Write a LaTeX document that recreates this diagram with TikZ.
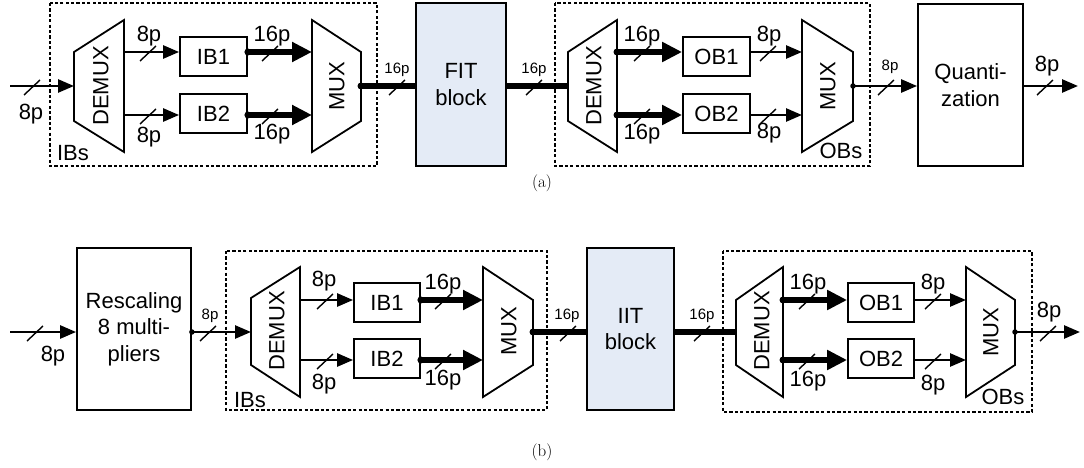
\documentclass[tikz,border=0pt]{standalone}
\usepackage{fontspec}
\newfontfamily\arialf{Liberation Sans}
\usetikzlibrary{arrows.meta,calc}
\definecolor{fitblue}{RGB}{228,235,246}
\newcommand\lblfont{\arialf\fontsize{22}{26.5}\selectfont}
\newcommand\slblfont{\arialf\fontsize{15}{18}\selectfont}
\begin{document}
\begin{tikzpicture}[x=1pt,y=-1pt,
  box/.style={draw=black, line width=1.8pt, inner sep=0pt, align=center, font=\lblfont},
  dbox/.style={draw=black, line width=1.6pt, dash pattern=on 3.2pt off 2.2pt},
  trap/.style={draw=black, line width=1.8pt, line join=miter},
  tarr/.style={line width=2.6pt, -{Triangle[length=16pt,width=13pt]}},
  karr/.style={line width=5.3pt, -{Triangle[length=20pt,width=19pt]}},
  kline/.style={line width=5.3pt},
  tline/.style={line width=2.6pt},
  dotk/.style={fill=black, circle, inner sep=0pt, minimum size=7pt},
  dott/.style={fill=black, circle, inner sep=0pt, minimum size=5.5pt},
  lab/.style={font=\lblfont, inner sep=0pt},
  slab/.style={font=\slblfont, inner sep=0pt},
  slashpic/.pic={\draw[line width=1.4pt] (-8,9) -- (8,-6);},
]
\useasboundingbox (0,0) rectangle (1084,468);

% ================= (a) =================
\draw[dbox] (50,3) rectangle (377,166);
\draw[dbox] (555,3) rectangle (870,166);

% DEMUX / MUX trapezoids
\draw[trap] (74,52) -- (124,20) -- (124,152) -- (74,121) -- cycle;
\draw[trap] (312,20) -- (361,52) -- (361,121) -- (312,152) -- cycle;
\draw[trap] (568,52) -- (617,20) -- (617,152) -- (568,121) -- cycle;
\draw[trap] (802,20) -- (853,52) -- (853,121) -- (802,152) -- cycle;
\node[lab, rotate=90] (dmA) at (101,86) {DEMUX};
\node[lab, rotate=90] (mxA) at (337,86) {MUX};
\node[lab, rotate=90] (dmA2) at (594,86) {DEMUX};
\node[lab, rotate=90] (mxA2) at (828,86) {MUX};

\coordinate (inA) at (10,86);
\coordinate (dmAin) at (74,86);
\coordinate (dmAo1) at (124,52);
\coordinate (dmAo2) at (124,115);
\coordinate (mxAi1) at (312,52);
\coordinate (mxAi2) at (312,115);
\coordinate (mxAout) at (361,86);
\coordinate (dmA2in) at (568,86);
\coordinate (dmA2o1) at (617,52);
\coordinate (dmA2o2) at (617,115);
\coordinate (mxA2i1) at (802,52);
\coordinate (mxA2i2) at (802,115);
\coordinate (mxA2out) at (853,86);
\coordinate (outA) at (1078,86);

\node[box, minimum width=67pt, minimum height=39pt] (IB1a) at (213.5,56.5) {IB1};
\node[box, minimum width=67pt, minimum height=39pt] (IB2a) at (213.5,113.5) {IB2};
\node[box, fill=fitblue, minimum width=90pt, minimum height=163pt] (FIT) at (461,84.5) {FIT\\block};
\node[box, minimum width=105pt, minimum height=162pt] (QZ) at (970.5,85) {Quanti-\\zation};
\node[box, minimum width=67pt, minimum height=39pt] (OB1a) at (716.5,56.5) {OB1};
\node[box, minimum width=67pt, minimum height=39pt] (OB2a) at (716.5,113.5) {OB2};

% connectors
\draw[tarr] (inA) -- (dmAin);
\draw[tarr] (dmAo1) -- (dmAo1 -| IB1a.west);
\draw[tarr] (dmAo2) -- (dmAo2 -| IB2a.west);
\draw[karr] (mxAi1 -| IB1a.east) -- (mxAi1);
\draw[karr] (mxAi2 -| IB2a.east) -- (mxAi2);
\draw[kline] (mxAout) -- (mxAout -| FIT.west);
\draw[kline] (dmA2in -| FIT.east) -- (dmA2in);
\draw[karr] (dmA2o1) -- (dmA2o1 -| OB1a.west);
\draw[karr] (dmA2o2) -- (dmA2o2 -| OB2a.west);
\draw[tarr] (mxA2i1 -| OB1a.east) -- (mxA2i1);
\draw[tarr] (mxA2i2 -| OB2a.east) -- (mxA2i2);
\draw[tarr] (mxA2out) -- (mxA2out -| QZ.west);
\draw[tarr] (QZ.east |- outA) -- (outA);

\node[dotk] (d1) at (mxAi1 -| IB1a.east) {};
\node[dotk] (d2) at (mxAi2 -| IB2a.east) {};
\node[dotk] (d3) at (mxAout) {};
\node[dotk] (d4) at (dmA2o1) {};
\node[dotk] (d5) at (dmA2o2) {};
\node[dott] (d6) at (mxA2out) {};

% slashes
\pic at (32,86) {slashpic};
\pic at (148,52) {slashpic};
\pic at (148,115) {slashpic};
\pic at (270,52) {slashpic};
\pic at (270,115) {slashpic};
\pic at (397,86) {slashpic};
\pic at (534,86) {slashpic};
\pic at (642,52) {slashpic};
\pic at (642,115) {slashpic};
\pic at (768,52) {slashpic};
\pic at (768,115) {slashpic};
\pic at (886,86) {slashpic};
\pic at (1045,86) {slashpic};

% labels
\node[lab] (la1) at (31,114) {8p};
\node[lab] (la2) at (149,36) {8p};
\node[lab] (la3) at (149,137) {8p};
\node[lab] (la4) at (272,36) {16p};
\node[lab] (la5) at (272,134) {16p};
\node[lab] (la6) at (73,153) {IBs};
\node[slab] (la7) at (397,70) {16p};
\node[slab] (la8) at (534,70) {16p};
\node[lab] (la9) at (642,36) {16p};
\node[lab] (la10) at (642,134) {16p};
\node[lab] (la11) at (769,36) {8p};
\node[lab] (la12) at (769,133) {8p};
\node[lab] (la13) at (841,151) {OBs};
\node[slab] (la14) at (890,67) {8p};
\node[lab] (la15) at (1047,66) {8p};

\node[font=\fontsize{17}{20}\selectfont, inner sep=0pt] (capa) at (542,183) {(a)};

% ================= (b) =================
\draw[dbox] (226,251) rectangle (547,410);
\draw[dbox] (723,251) rectangle (1032,412);

\draw[trap] (251,298) -- (300,267) -- (300,397) -- (251,365) -- cycle;
\draw[trap] (483,267) -- (533,300) -- (533,365) -- (483,397) -- cycle;
\draw[trap] (736,300) -- (783,267) -- (783,397) -- (736,365) -- cycle;
\draw[trap] (966,267) -- (1015,300) -- (1015,365) -- (966,397) -- cycle;
\node[lab, rotate=90] (dmB) at (277,331) {DEMUX};
\node[lab, rotate=90] (mxB) at (509,331) {MUX};
\node[lab, rotate=90] (dmB2) at (762,331) {DEMUX};
\node[lab, rotate=90] (mxB2) at (991,332) {MUX};

\coordinate (inB) at (10,332);
\coordinate (dmBin) at (251,332);
\coordinate (dmBo1) at (300,300);
\coordinate (dmBo2) at (300,360);
\coordinate (mxBi1) at (483,300);
\coordinate (mxBi2) at (483,360);
\coordinate (mxBout) at (533,332);
\coordinate (dmB2in) at (736,332);
\coordinate (dmB2o1) at (783,300);
\coordinate (dmB2o2) at (783,360);
\coordinate (mxB2i1) at (966,300);
\coordinate (mxB2i2) at (966,360);
\coordinate (mxB2out) at (1015,332);
\coordinate (outB) at (1080,332);

\node[box, minimum width=114pt, minimum height=162pt] (RS) at (134,329) {Rescaling\\8 multi-\\pliers};
\node[box, minimum width=66pt, minimum height=39pt] (IB1b) at (387,302.5) {IB1};
\node[box, minimum width=66pt, minimum height=39pt] (IB2b) at (387,358.5) {IB2};
\node[box, fill=fitblue, minimum width=87pt, minimum height=162pt] (IIT) at (630.5,329) {IIT\\block};
\node[box, minimum width=66pt, minimum height=39pt] (OB1b) at (881,302.5) {OB1};
\node[box, minimum width=66pt, minimum height=39pt] (OB2b) at (881,358.5) {OB2};

\draw[tarr] (inB) -- (inB -| RS.west);
\draw[tarr] (RS.east |- dmBin) -- (dmBin);
\draw[tarr] (dmBo1) -- (dmBo1 -| IB1b.west);
\draw[tarr] (dmBo2) -- (dmBo2 -| IB2b.west);
\draw[karr] (mxBi1 -| IB1b.east) -- (mxBi1);
\draw[karr] (mxBi2 -| IB2b.east) -- (mxBi2);
\draw[kline] (mxBout) -- (mxBout -| IIT.west);
\draw[kline] (dmB2in -| IIT.east) -- (dmB2in);
\draw[karr] (dmB2o1) -- (dmB2o1 -| OB1b.west);
\draw[karr] (dmB2o2) -- (dmB2o2 -| OB2b.west);
\draw[tarr] (mxB2i1 -| OB1b.east) -- (mxB2i1);
\draw[tarr] (mxB2i2 -| OB2b.east) -- (mxB2i2);
\draw[tarr] (mxB2out) -- (outB);

\node[dott] (e0) at (RS.east |- dmBin) {};
\node[dotk] (e1) at (mxBi1 -| IB1b.east) {};
\node[dotk] (e2) at (mxBi2 -| IB2b.east) {};
\node[dotk] (e3) at (mxBout) {};
\node[dotk] (e4) at (dmB2o1) {};
\node[dotk] (e5) at (dmB2o2) {};
\node[dott] (e6) at (mxB2out) {};

\pic at (35,332) {slashpic};
\pic at (208,332) {slashpic};
\pic at (325,300) {slashpic};
\pic at (325,360) {slashpic};
\pic at (443,300) {slashpic};
\pic at (443,360) {slashpic};
\pic at (568,332) {slashpic};
\pic at (702,332) {slashpic};
\pic at (807,300) {slashpic};
\pic at (807,360) {slashpic};
\pic at (933,300) {slashpic};
\pic at (933,360) {slashpic};
\pic at (1048,332) {slashpic};

\node[lab] (lb1) at (53,356) {8p};
\node[slab] (lb2) at (210,316) {8p};
\node[lab] (lb3) at (324,281) {8p};
\node[lab] (lb4) at (324,384) {8p};
\node[lab] (lb5) at (250,400) {IBs};
\node[lab] (lb6) at (443,284) {16p};
\node[lab] (lb7) at (443,380) {16p};
\node[slab] (lb8) at (567,316) {16p};
\node[slab] (lb9) at (702,316) {16p};
\node[lab] (lb10) at (808,284) {16p};
\node[lab] (lb11) at (808,381) {16p};
\node[lab] (lb12) at (933,284) {8p};
\node[lab] (lb13) at (933,385) {8p};
\node[lab] (lb14) at (1003,397) {OBs};
\node[lab] (lb15) at (1049,312) {8p};

\node[font=\fontsize{17}{20}\selectfont, inner sep=0pt] (capb) at (542,452) {(b)};
\end{tikzpicture}
\end{document}
